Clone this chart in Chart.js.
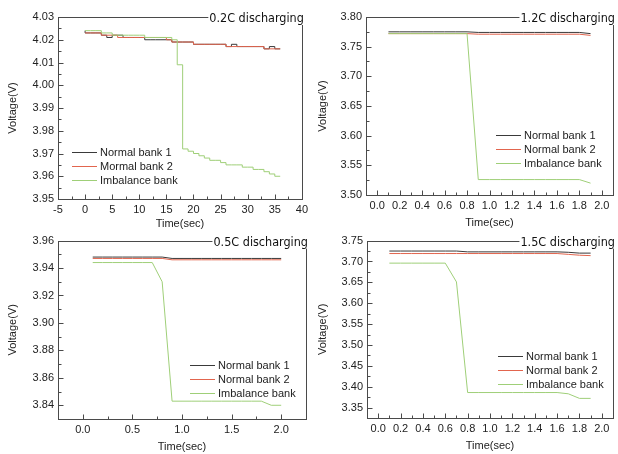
<!DOCTYPE html>
<html><head><meta charset="utf-8">
<script src="https://cdn.jsdelivr.net/npm/chart.js@4.4.0/dist/chart.umd.min.js"></script>
<style>
html,body{margin:0;padding:0;background:#fff;width:618px;height:454px;overflow:hidden}
canvas{position:absolute}
</style></head><body>
<canvas id="c1" width="312" height="230" style="left:0;top:0"></canvas>
<canvas id="c2" width="306" height="230" style="left:312px;top:0"></canvas>
<canvas id="c3" width="312" height="224" style="left:0;top:230px"></canvas>
<canvas id="c4" width="306" height="224" style="left:312px;top:230px"></canvas>
<script>
// ---------- DATA ----------
const seriesNames = ['Normal bank 1', 'Normal bank 2', 'Imbalance bank'];
const seriesNames02 = ['Normal bank 1', 'Mormal bank 2', 'Imbalance bank'];
const panelTitles = ['0.2C discharging', '1.2C discharging', '0.5C discharging', '1.5C discharging'];
const xAxisTitle = 'Time(sec)';
const yAxisTitle = 'Voltage(V)';

// 0.2C discharging (1 s samples)
const time02 = [0,1,2,3,4,5,6,7,8,9,10,11,12,13,14,15,16,17,18,19,20,21,22,23,24,25,26,27,28,29,30,31,32,33,34,35,36];
const bank1_02 = [4.024,4.023,4.023,4.023,4.022,4.021,4.022,4.022,4.021,4.021,4.021,4.021,4.020,4.020,4.020,4.020,4.020,4.019,4.019,4.019,4.019,4.018,4.018,4.018,4.018,4.018,4.018,4.017,4.018,4.017,4.017,4.017,4.017,4.017,4.016,4.017,4.016];
const bank2_02 = [4.023,4.023,4.023,4.023,4.022,4.022,4.022,4.021,4.021,4.021,4.021,4.021,4.021,4.021,4.021,4.021,4.020,4.019,4.019,4.019,4.019,4.018,4.018,4.018,4.018,4.018,4.018,4.017,4.017,4.017,4.017,4.017,4.017,4.017,4.016,4.016,4.016];
const imb_02   = [4.024,4.024,4.024,4.024,4.023,4.023,4.022,4.022,4.022,4.022,4.022,4.022,4.021,4.021,4.021,4.021,4.021,4.020,4.009,3.972,3.971,3.970,3.969,3.968,3.967,3.967,3.966,3.965,3.965,3.965,3.964,3.964,3.963,3.963,3.962,3.961,3.960];

// 1.2C discharging
const time12 = [0.1,0.2,0.3,0.4,0.5,0.6,0.7,0.8,0.9,1.0,1.1,1.2,1.3,1.4,1.5,1.6,1.7,1.8,1.9];
const bank1_12 = [3.775,3.775,3.775,3.775,3.775,3.775,3.775,3.775,3.774,3.774,3.774,3.774,3.774,3.774,3.774,3.774,3.774,3.774,3.772];
const bank2_12 = [3.772,3.772,3.772,3.772,3.772,3.772,3.772,3.772,3.771,3.771,3.771,3.771,3.771,3.771,3.771,3.771,3.771,3.771,3.769];
const imb_12   = [3.772,3.772,3.772,3.772,3.772,3.772,3.772,3.772,3.526,3.526,3.526,3.526,3.526,3.526,3.526,3.526,3.526,3.526,3.520];

// 0.5C discharging
const time05 = [0.1,0.2,0.3,0.4,0.5,0.6,0.7,0.8,0.9,1.0,1.1,1.2,1.3,1.4,1.5,1.6,1.7,1.8,1.9,2.0];
const bank1_05 = [3.948,3.948,3.948,3.948,3.948,3.948,3.948,3.948,3.947,3.947,3.947,3.947,3.947,3.947,3.947,3.947,3.947,3.947,3.947,3.947];
const bank2_05 = [3.947,3.947,3.947,3.947,3.947,3.947,3.947,3.947,3.946,3.946,3.946,3.946,3.946,3.946,3.946,3.946,3.946,3.946,3.946,3.946];
const imb_05   = [3.944,3.944,3.944,3.944,3.944,3.944,3.944,3.930,3.843,3.843,3.843,3.843,3.843,3.843,3.843,3.843,3.843,3.843,3.840,3.840];

// 1.5C discharging
const time15 = [0.1,0.2,0.3,0.4,0.5,0.6,0.7,0.8,0.9,1.0,1.1,1.2,1.3,1.4,1.5,1.6,1.7,1.8,1.9];
const bank1_15 = [3.725,3.725,3.725,3.725,3.725,3.725,3.725,3.723,3.723,3.723,3.723,3.723,3.723,3.723,3.723,3.723,3.722,3.720,3.720];
const bank2_15 = [3.719,3.719,3.719,3.719,3.719,3.719,3.719,3.719,3.719,3.719,3.719,3.719,3.719,3.719,3.719,3.719,3.717,3.715,3.714];
const imb_15   = [3.696,3.696,3.696,3.696,3.696,3.696,3.651,3.386,3.386,3.386,3.386,3.386,3.386,3.386,3.386,3.386,3.383,3.372,3.372];

// tick labels
const xTicks02 = [-5,0,5,10,15,20,25,30,35,40];
const yTicks02 = [3.95,3.96,3.97,3.98,3.99,4.00,4.01,4.02,4.03];
const xTicks12 = [0.0,0.2,0.4,0.6,0.8,1.0,1.2,1.4,1.6,1.8,2.0];
const yTicks12 = [3.50,3.55,3.60,3.65,3.70,3.75,3.80];
const xTicks05 = [0.0,0.5,1.0,1.5,2.0];
const yTicks05 = [3.84,3.86,3.88,3.90,3.92,3.94,3.96];
const xTicks15 = [0.0,0.2,0.4,0.6,0.8,1.0,1.2,1.4,1.6,1.8,2.0];
const yTicks15 = [3.35,3.40,3.45,3.50,3.55,3.60,3.65,3.70,3.75];

// ---------- STYLE ----------
const colors = ['#3a3a3a', '#e2654e', '#9fcf78'];
const FONT = "'Liberation Sans', Arial, sans-serif";
const TITLE_FONT = "12.5px 'DejaVu Sans Condensed', 'DejaVu Sans', sans-serif";

const framePlugin = {
  id: 'frame',
  afterDraw(chart) {
    const o = chart.options.plugins.frame;
    const {ctx, chartArea: a, scales: {x, y}} = chart;
    ctx.save();
    ctx.strokeStyle = '#4a4a4a';
    ctx.lineWidth = 1;
    ctx.strokeRect(Math.round(a.left) + 0.5, Math.round(a.top) + 0.5, Math.round(a.right - a.left), Math.round(a.bottom - a.top));
    // ticks (inward)
    const xt = x.ticks.map(t => t.value), yt = y.ticks.map(t => t.value);
    ctx.beginPath();
    const bx = Math.round(a.bottom) + 0.5, lx = Math.round(a.left) + 0.5;
    xt.forEach((v, i) => {
      const p = Math.round(x.getPixelForValue(v)) + 0.5;
      ctx.moveTo(p, bx); ctx.lineTo(p, bx - 5);
      if (i < xt.length - 1) {
        const m = Math.round(x.getPixelForValue((v + xt[i + 1]) / 2)) + 0.5;
        ctx.moveTo(m, bx); ctx.lineTo(m, bx - 3);
      }
    });
    if (xt.length > 1) {
      const m = Math.round(x.getPixelForValue(xt[0] - (xt[1] - xt[0]) / 2)) + 0.5;
      if (m > a.left + 1) { ctx.moveTo(m, bx); ctx.lineTo(m, bx - 3); }
    }
    yt.forEach((v, i) => {
      const p = Math.round(y.getPixelForValue(v)) + 0.5;
      ctx.moveTo(lx, p); ctx.lineTo(lx + 5, p);
      if (i < yt.length - 1) {
        const m = Math.round(y.getPixelForValue((v + yt[i + 1]) / 2)) + 0.5;
        ctx.moveTo(lx, m); ctx.lineTo(lx + 3, m);
      }
    });
    if (yt.length > 1) {
      const m = Math.round(y.getPixelForValue(yt[0] - (yt[1] - yt[0]) / 2)) + 0.5;
      if (m < a.bottom - 1) { ctx.moveTo(lx, m); ctx.lineTo(lx + 3, m); }
    }
    ctx.stroke();
    // panel title over top border
    ctx.font = TITLE_FONT;
    const tw = ctx.measureText(o.title).width;
    const tx = a.right + 2;
    ctx.fillStyle = '#fff';
    ctx.fillRect(tx - tw - 1, a.top - 9, tw + 6, 17);
    ctx.fillStyle = '#111';
    ctx.textAlign = 'right';
    ctx.textBaseline = 'alphabetic';
    ctx.fillText(o.title, tx, a.top + 5);
    // axis titles
    ctx.font = '11px ' + FONT;
    ctx.fillStyle = '#222';
    ctx.textAlign = 'center';
    ctx.textBaseline = 'middle';
    ctx.fillText(o.xTitle, (a.left + a.right) / 2, a.bottom + o.xTitleDy);
    ctx.save();
    ctx.translate(o.yTitleX, (a.top + a.bottom) / 2);
    ctx.rotate(-Math.PI / 2);
    ctx.fillText(o.yTitle, 0, 0);
    ctx.restore();
    // legend
    ctx.textAlign = 'left';
    chart.data.datasets.forEach((ds, i) => {
      const yy = Math.round(a.top + o.legDy + i * 14) + 0.5;
      const x0 = a.left + o.legDx;
      ctx.strokeStyle = ds.borderColor;
      ctx.beginPath(); ctx.moveTo(x0, yy); ctx.lineTo(x0 + 25, yy); ctx.stroke();
      ctx.fillStyle = '#222';
      ctx.fillText(ds.label, x0 + 28, yy);
    });
    ctx.restore();
  }
};

function makeChart(id, cfg) {
  const names = cfg.names;
  const mk = (vals, i) => ({
    label: names[i],
    data: cfg.time.map((t, k) => ({x: t, y: vals[k]})),
    borderColor: colors[i],
    backgroundColor: colors[i],
    borderWidth: 1,
    pointRadius: 0,
    stepped: cfg.stepped ? 'after' : false,
    order: 2 - i
  });
  return new Chart(document.getElementById(id), {
    type: 'line',
    data: {datasets: cfg.series.map(mk)},
    plugins: [framePlugin],
    options: {
      responsive: false,
      animation: false,
      devicePixelRatio: 1,
      layout: {padding: cfg.padding},
      plugins: {
        legend: {display: false},
        tooltip: {enabled: false},
        frame: {title: cfg.title, xTitle: xAxisTitle, yTitle: yAxisTitle,
                xTitleDy: cfg.xTitleDy, yTitleX: cfg.yTitleX, legDx: cfg.legDx, legDy: cfg.legDy}
      },
      scales: {
        x: {
          type: 'linear', min: cfg.xMin, max: cfg.xMax,
          grid: {display: false, drawTicks: false},
          border: {display: false},
          afterBuildTicks: s => { s.ticks = cfg.xTicks.map(v => ({value: v})); },
          afterFit: s => { s.height = cfg.xHeight; },
          ticks: {padding: 4, color: '#222', font: {family: FONT, size: 11}, maxRotation: 0, autoSkip: false,
                  callback: v => cfg.xDec === 0 ? String(v) : Number(v).toFixed(cfg.xDec)}
        },
        y: {
          type: 'linear', min: cfg.yMin, max: cfg.yMax,
          grid: {display: false, drawTicks: false},
          border: {display: false},
          afterBuildTicks: s => { s.ticks = cfg.yTicks.map(v => ({value: v})); },
          afterFit: s => { s.width = cfg.yWidth; },
          ticks: {padding: 4, color: '#222', font: {family: FONT, size: 11}, autoSkip: false,
                  callback: v => Number(v).toFixed(2)}
        }
      }
    }
  });
}

makeChart('c1', {names: seriesNames02, title: panelTitles[0], time: time02, series: [bank1_02, bank2_02, imb_02], stepped: true,
  xMin: -5, xMax: 40, yMin: 3.95, yMax: 4.03, xTicks: xTicks02, yTicks: yTicks02, xDec: 0,
  padding: {top: 17, right: 6, left: 0, bottom: 0}, yWidth: 58, xHeight: 31,
  xTitleDy: 25, yTitleX: 13, legDx: 14, legDy: 135});
makeChart('c2', {names: seriesNames, title: panelTitles[1], time: time12, series: [bank1_12, bank2_12, imb_12],
  xMin: -0.1, xMax: 2.1, yMin: 3.50, yMax: 3.80, xTicks: xTicks12, yTicks: yTicks12, xDec: 1,
  padding: {top: 17, right: 5, left: 0, bottom: 0}, yWidth: 54, xHeight: 35,
  xTitleDy: 28, yTitleX: 11, legDx: 130, legDy: 118});
makeChart('c3', {names: seriesNames, title: panelTitles[2], time: time05, series: [bank1_05, bank2_05, imb_05],
  xMin: -0.25, xMax: 2.25, yMin: 3.83, yMax: 3.96, xTicks: xTicks05, yTicks: yTicks05, xDec: 1,
  padding: {top: 8, right: 6, left: 0, bottom: 0}, yWidth: 58, xHeight: 35,
  xTitleDy: 28, yTitleX: 13, legDx: 132, legDy: 124});
makeChart('c4', {names: seriesNames, title: panelTitles[3], time: time15, series: [bank1_15, bank2_15, imb_15],
  xMin: -0.1, xMax: 2.1, yMin: 3.325, yMax: 3.75, xTicks: xTicks15, yTicks: yTicks15, xDec: 1,
  padding: {top: 8, right: 5, left: 0, bottom: 0}, yWidth: 55, xHeight: 36,
  xTitleDy: 28, yTitleX: 11, legDx: 131, legDy: 115});
</script>
</body></html>
